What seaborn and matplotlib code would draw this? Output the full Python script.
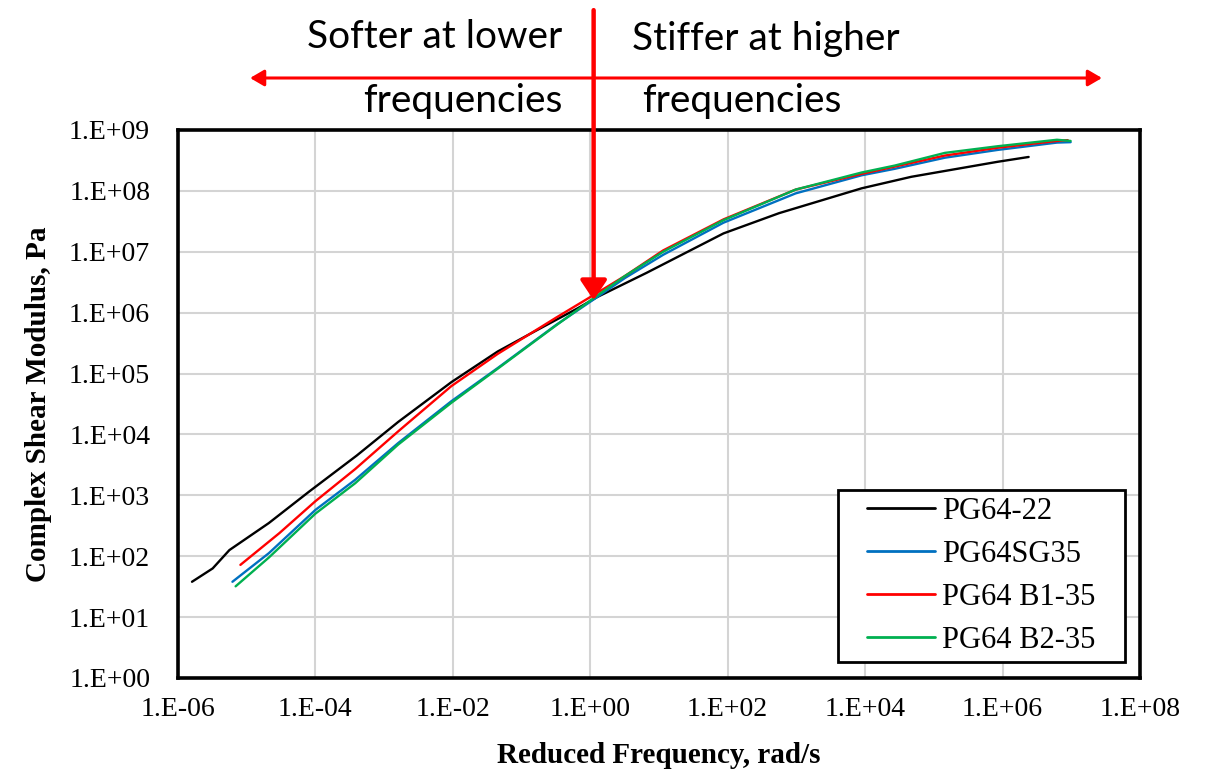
import numpy as np
import pandas as pd
import matplotlib
matplotlib.use("Agg")
import matplotlib.pyplot as plt
import matplotlib.transforms as mtransforms
from matplotlib.patches import Rectangle
from matplotlib.ticker import FixedLocator, FuncFormatter, NullLocator
import seaborn as sns

# Master curves: reduced frequency (rad/s) and complex shear modulus (Pa)
binders = ["PG64-22", "PG64SG35", "PG64 B1-35", "PG64 B2-35"]
colors = ["#000000", "#0070C0", "#FF0000", "#00B050"]

freq_pg64_22 = [1.6e-6, 3.2e-6, 5.6e-6, 2.1e-5, 8.1e-5, 4.0e-4, 1.6e-3, 9.5e-3,
                4.5e-2, 0.17, 0.65, 1.26, 6.6, 87, 560, 8.9e3, 4.7e4, 8.5e5, 2.4e6]
g_pg64_22 = [38, 63, 126, 350, 1150, 4.5e3, 1.6e4, 7.2e4,
             2.3e5, 5.2e5, 1.17e6, 1.8e6, 4.5e6, 2.0e7, 4.3e7, 1.1e8, 1.7e8, 3.0e8, 3.6e8]

freq_sg35 = [6.2e-6, 2.1e-5, 1.0e-4, 3.8e-4, 1.6e-3, 9.5e-3, 4.5e-2, 0.32, 1.26,
             3.2, 11.5, 87, 980, 8.9e3, 2.7e4, 1.45e5, 8.5e5, 6.2e6, 9.8e6]
g_sg35 = [38, 112, 575, 1.8e3, 7.2e3, 3.5e4, 1.23e5, 6.3e5, 1.8e6,
          3.7e6, 8.9e6, 3.0e7, 9.1e7, 1.8e8, 2.3e8, 3.5e8, 4.7e8, 6.2e8, 6.3e8]

freq_b1 = [8.1e-6, 3.0e-5, 1.0e-4, 3.8e-4, 1.6e-3, 9.5e-3, 4.5e-2, 0.32, 1.0,
           3.2, 11.5, 87, 980, 8.9e3, 2.7e4, 1.45e5, 8.5e5, 6.2e6, 8.9e6]
g_b1 = [72, 240, 800, 2.7e3, 1.12e4, 6.2e4, 2.1e5, 8.3e5, 1.8e6,
        4.0e6, 1.05e7, 3.4e7, 1.05e8, 1.9e8, 2.5e8, 3.8e8, 5.1e8, 6.6e8, 6.8e8]

freq_b2 = [6.9e-6, 2.1e-5, 1.0e-4, 3.8e-4, 1.6e-3, 9.5e-3, 4.5e-2, 0.32, 1.26,
           3.2, 11.5, 87, 980, 8.9e3, 2.7e4, 1.45e5, 8.5e5, 6.2e6, 9.8e6]
g_b2 = [32, 95, 500, 1.58e3, 6.8e3, 3.3e4, 1.2e5, 6.2e5, 1.9e6,
        4.0e6, 1.0e7, 3.3e7, 1.05e8, 2.0e8, 2.6e8, 4.2e8, 5.4e8, 6.9e8, 6.6e8]

x_ticks = [1e-6, 1e-4, 1e-2, 1e0, 1e2, 1e4, 1e6, 1e8]
y_ticks = [1e0, 1e1, 1e2, 1e3, 1e4, 1e5, 1e6, 1e7, 1e8, 1e9]

frames = []
for name, f, g in zip(binders,
                      [freq_pg64_22, freq_sg35, freq_b1, freq_b2],
                      [g_pg64_22, g_sg35, g_b1, g_b2]):
    frames.append(pd.DataFrame({"binder": name, "freq": f, "modulus": g}))
df = pd.concat(frames, ignore_index=True)

sns.set_theme(style="white")
plt.rcParams.update({"text.color": "black", "axes.labelcolor": "black",
                     "xtick.color": "black", "ytick.color": "black"})
serif = ["Liberation Serif", "DejaVu Serif"]

fig = plt.figure(figsize=(12.05, 7.8), dpi=100)
ax = fig.add_axes([0.1477, 0.1308, 0.7983, 0.7026])

sns.lineplot(data=df, x="freq", y="modulus", hue="binder", hue_order=binders,
             palette=colors, sort=False, estimator=None, linewidth=1.7, ax=ax)

ax.set_xscale("log")
ax.set_yscale("log")
ax.set_xlim(1e-6, 1e8)
ax.set_ylim(1e0, 1e9)

def sci_label(v, pos):
    e = int(round(np.log10(v)))
    return f"1.E{e:+03d}"

ax.xaxis.set_major_locator(FixedLocator(x_ticks))
ax.yaxis.set_major_locator(FixedLocator(y_ticks))
ax.xaxis.set_minor_locator(NullLocator())
ax.yaxis.set_minor_locator(NullLocator())
ax.xaxis.set_major_formatter(FuncFormatter(sci_label))
ax.yaxis.set_major_formatter(FuncFormatter(sci_label))
ax.tick_params(axis="both", length=0, labelsize=20, colors="black")
ax.tick_params(axis="y", pad=20)
ax.tick_params(axis="x", pad=14)
for lab in ax.get_xticklabels() + ax.get_yticklabels():
    lab.set_fontfamily(serif)

ax.grid(True, color="#d4d4d4", linewidth=1.5)
ax.set_axisbelow(True)
for sp in ax.spines.values():
    sp.set_visible(True)
    sp.set_color("black")
    sp.set_linewidth(2.6)

ax.set_xlabel("Reduced Frequency, rad/s", fontsize=21, fontweight="bold",
              family=serif, labelpad=14, color="black")
ax.set_ylabel("Complex Shear Modulus, Pa", fontsize=21, fontweight="bold",
              family=serif, labelpad=12, color="black")

# Legend: entries centred inside a square-cornered box
legend_box = (0.686, 0.029, 0.298, 0.314)
ax.add_patch(Rectangle(legend_box[:2], legend_box[2], legend_box[3],
                       transform=ax.transAxes, facecolor="white",
                       edgecolor="black", linewidth=2.0, zorder=4.5))
handles, labels = ax.get_legend_handles_labels()
leg = ax.legend(handles, labels, loc="center", bbox_to_anchor=legend_box,
                frameon=False, prop={"family": serif, "size": 22},
                handlelength=2.23, handletextpad=0.25, labelspacing=0.46,
                borderpad=0, borderaxespad=0)
leg.set_zorder(5)
for ln in leg.get_lines():
    ln.set_linewidth(2.0)
for t in leg.get_texts():
    t.set_color("black")

# Frequency annotations above the plot
sans = ["Lato", "DejaVu Sans"]
fig.text(0.467, 0.938, "Softer at lower", ha="right", va="baseline",
         fontsize=28, family=sans, color="black")
fig.text(0.467, 0.856, "frequencies", ha="right", va="baseline",
         fontsize=28, family=sans, color="black")
fig.text(0.5245, 0.936, "Stiffer at higher", ha="left", va="baseline",
         fontsize=28, family=sans, color="black")
fig.text(0.533, 0.856, "frequencies", ha="left", va="baseline",
         fontsize=28, family=sans, color="black")

ax.annotate("", xy=(0.2075, 0.9), xycoords="figure fraction",
            xytext=(0.9145, 0.9), textcoords="figure fraction",
            arrowprops=dict(arrowstyle="<|-|>,head_length=0.6,head_width=0.35",
                            color="red", lw=2.2, shrinkA=0, shrinkB=0,
                            mutation_scale=14),
            annotation_clip=False)

blend = mtransforms.blended_transform_factory(ax.transData, fig.transFigure)
ax.annotate("", xy=(1.12, 1.6e6), xycoords="data",
            xytext=(1.12, 0.987), textcoords=blend,
            arrowprops=dict(arrowstyle="-|>,head_length=0.6,head_width=0.4",
                            color="red", lw=3.2, shrinkA=0, shrinkB=0,
                            mutation_scale=20),
            annotation_clip=False)

fig.savefig("out.png", dpi=100)
